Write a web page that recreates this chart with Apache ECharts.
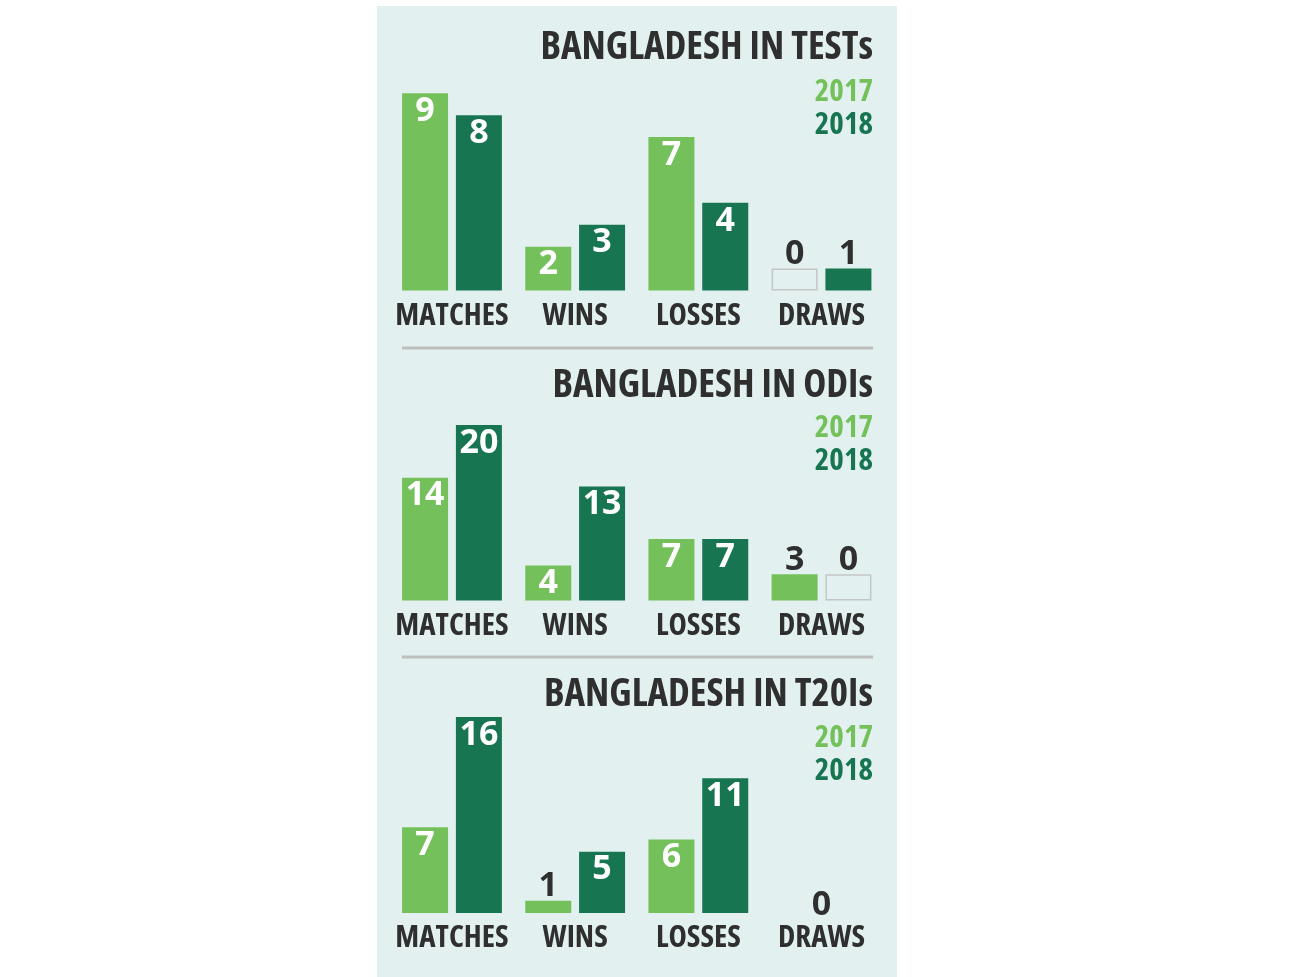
<!DOCTYPE html>
<html>
<head>
<meta charset="utf-8">
<title>Bangladesh in Tests, ODIs and T20Is</title>
<script src="https://cdn.jsdelivr.net/npm/echarts@6/dist/echarts.min.js"></script>
<style>
  html, body { margin: 0; padding: 0; background: #fff; }
  #main { width: 1300px; height: 977px; }
</style>
</head>
<body>
<div id="main"></div>
<script>
var categories = ['MATCHES', 'WINS', 'LOSSES', 'DRAWS'];
var formats = ['TESTs', 'ODIs', 'T20Is'];
var tests2017 = [9, 2, 7, 0];
var tests2018 = [8, 3, 4, 1];
var odis2017 = [14, 4, 7, 3];
var odis2018 = [20, 13, 7, 0];
var t20is2017 = [7, 1, 6, 0];
var t20is2018 = [16, 5, 11, 0];
var axisMax = [9, 20, 16];

var LIGHT = '#74c05a';
var DARK = '#177552';
var INK = '#2f2f2f';
var NUM = '"Open Sans", "Noto Sans", sans-serif';
// fontStyle ends up in the canvas font shorthand, so 'condensed' picks the narrow width of Open Sans
var COND = { fontStyle: 'condensed', fontFamily: '"Open Sans"', fontWeight: 'bold' };

// where each panel sits on the page
var panels = [
  { a: tests2017, b: tests2018, top: 93.3, bottom: 290.5, title: 28, legend: 77 },
  { a: odis2017, b: odis2018, top: 425, bottom: 600.5, title: 366, legend: 413 },
  { a: t20is2017, b: t20is2018, top: 717, bottom: 913, title: 675, legend: 723 }
];

// a zero next to a non-zero bar is drawn as an empty box as tall as its partner
function barData(vals, other, ppu) {
  return vals.map(function (v, i) {
    var empty = v === 0 && other[i] > 0;
    var h = empty ? other[i] : v;
    var item = { value: h, raw: v };
    if (empty) {
      item.itemStyle = { color: 'rgba(0,0,0,0)', borderColor: '#c4c6c6', borderWidth: 1.5 };
    }
    if (v === 0 && other[i] === 0) {
      item.label = { show: false };
    } else if (!empty && h * ppu >= 30) {
      item.label = { position: 'insideTop', color: '#fff', distance: 1 };
    } else {
      item.label = { position: 'top', color: INK, distance: -3 };
    }
    return item;
  });
}

var valueLabel = {
  show: true,
  fontFamily: NUM,
  fontWeight: 'bold',
  fontSize: 34,
  formatter: function (p) { return p.data.raw; }
};

var grids = [], xAxes = [], yAxes = [], series = [], titles = [], legends = [];

panels.forEach(function (p, i) {
  var ppu = (p.bottom - p.top) / axisMax[i];
  grids.push({ left: 390.4, width: 492.7, top: p.top, height: p.bottom - p.top });
  xAxes.push({
    type: 'category', gridIndex: i, data: categories,
    axisLine: { show: false }, axisTick: { show: false },
    axisLabel: Object.assign({ interval: 0, margin: 10, color: INK, fontSize: 31 }, COND)
  });
  yAxes.push({ type: 'value', gridIndex: i, min: 0, max: axisMax[i], show: false });

  series.push({
    type: 'bar', name: '2017', xAxisIndex: i, yAxisIndex: i,
    barWidth: 46, barGap: '17%',
    itemStyle: { color: LIGHT }, label: valueLabel,
    data: barData(p.a, p.b, ppu)
  });
  series.push({
    type: 'bar', name: '2018', xAxisIndex: i, yAxisIndex: i,
    barWidth: 46, barGap: '17%',
    itemStyle: { color: DARK }, label: valueLabel,
    data: barData(p.b, p.a, ppu)
  });

  // both years zero: one label centred on the category
  var bothZero = [];
  p.a.forEach(function (v, k) {
    if (v === 0 && p.b[k] === 0) bothZero.push({ value: [k, 0], raw: 0 });
  });
  series.push({
    type: 'scatter', name: 'none', xAxisIndex: i, yAxisIndex: i,
    symbolSize: 0, data: bothZero, itemStyle: { opacity: 1 },
    label: Object.assign({}, valueLabel, { position: 'top', color: INK, distance: -9 })
  });

  titles.push({
    text: 'BANGLADESH IN ' + formats[i],
    right: 427, top: p.title, padding: 0,
    textStyle: Object.assign({ fontSize: 39, color: INK }, COND)
  });
  legends.push({
    top: p.legend, right: 422, orient: 'vertical', align: 'right',
    icon: 'none', itemWidth: 0, itemHeight: 0, itemGap: 2, padding: 0,
    selectedMode: false,
    textStyle: Object.assign({ fontSize: 31 }, COND),
    data: [
      { name: '2017', textStyle: { color: LIGHT } },
      { name: '2018', textStyle: { color: DARK } }
    ]
  });
});

var chart = echarts.init(document.getElementById('main'));
chart.setOption({
  animation: false,
  backgroundColor: '#fff',
  graphic: [
    { type: 'rect', shape: { x: 377, y: 6, width: 520, height: 971 }, style: { fill: '#e2f1f0' }, z: -10 },
    { type: 'line', shape: { x1: 402, y1: 348, x2: 873, y2: 348 }, style: { stroke: '#bdbfbf', lineWidth: 3 } },
    { type: 'line', shape: { x1: 402, y1: 657, x2: 873, y2: 657 }, style: { stroke: '#bdbfbf', lineWidth: 3 } }
  ],
  title: titles,
  legend: legends,
  grid: grids,
  xAxis: xAxes,
  yAxis: yAxes,
  series: series
});
</script>
</body>
</html>
